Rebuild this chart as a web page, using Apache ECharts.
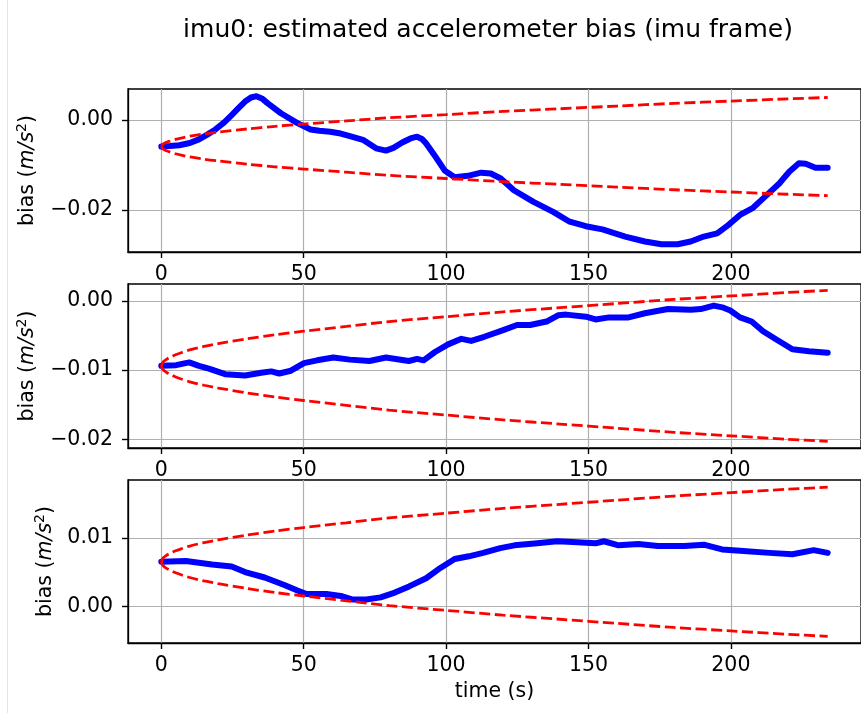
<!DOCTYPE html>
<html>
<head>
<meta charset="utf-8">
<script src="https://cdn.jsdelivr.net/npm/echarts@6/dist/echarts.min.js"></script>
<style>
  html, body { margin: 0; background: #fff; }
  #chart { width: 861px; height: 713px; }
</style>
</head>
<body>
<div id="chart"></div>
<script>
const titleText = 'imu0: estimated accelerometer bias (imu frame)';
const xName = 'time (s)';
const xTicks = [0, 50, 100, 150, 200];
const yTicks1 = [-0.02, 0.00];
const yTicks2 = [-0.02, -0.01, 0.00];
const yTicks3 = [0.00, 0.01];

// estimated bias, x axis
const t1 = [0, 3, 6.3, 10, 13.2, 16, 19, 22, 24.7, 27, 29.4, 31.5, 33.4, 35.3, 37.4, 42, 47.8, 52.4, 55.5, 59.3, 63, 66.2, 70.8, 75.4, 78.9, 81.5, 84.6, 87.5, 89.8, 91.5, 93, 96.1, 99.6, 103, 107.6, 112.3, 115.7, 119.2, 123.8, 130.7, 137.6, 143.4, 149.1, 154.9, 158.5, 162.9, 169.8, 175.6, 181.3, 185.9, 190.5, 195.2, 198.6, 203.2, 207.8, 212.4, 217, 220.5, 223.9, 226.3, 229.7, 234];
const b1 = [-0.0059, -0.0058, -0.0056, -0.0051, -0.0043, -0.0033, -0.0021, -0.0006, 0.0011, 0.0026, 0.0041, 0.0050, 0.0053, 0.0048, 0.0037, 0.0015, -0.0007, -0.0021, -0.0024, -0.0026, -0.0030, -0.0036, -0.0044, -0.0063, -0.0068, -0.0062, -0.0050, -0.0041, -0.0037, -0.0042, -0.0052, -0.0080, -0.0113, -0.0127, -0.0124, -0.0117, -0.0119, -0.0130, -0.0156, -0.0182, -0.0204, -0.0226, -0.0236, -0.0243, -0.0250, -0.0259, -0.0270, -0.0276, -0.0276, -0.0270, -0.0259, -0.0252, -0.0236, -0.0211, -0.0195, -0.0168, -0.0141, -0.0115, -0.0096, -0.0097, -0.0106, -0.0106];

// estimated bias, y axis
const t2 = [0, 5.2, 9.8, 13.2, 16.7, 22.4, 29.4, 35.1, 38.6, 41.4, 45.5, 50.1, 54.7, 60.4, 66.2, 73.1, 78.9, 86.9, 89.8, 92.1, 96.1, 100.7, 105.4, 108.8, 113.4, 120.3, 124.9, 129.5, 135.3, 139.3, 142.2, 149.1, 152.5, 157.2, 164.1, 169.8, 177.9, 185.9, 189.4, 194, 197.4, 199.8, 203.2, 207.3, 211.3, 216.4, 221.6, 227.4, 234];
const b2 = [-0.0094, -0.0093, -0.0089, -0.0094, -0.0098, -0.0106, -0.0108, -0.0104, -0.0102, -0.0105, -0.0101, -0.0090, -0.0086, -0.0082, -0.0085, -0.0087, -0.0082, -0.0087, -0.0084, -0.0086, -0.0074, -0.0063, -0.0055, -0.0058, -0.0052, -0.0042, -0.0035, -0.0035, -0.0030, -0.0021, -0.0020, -0.0023, -0.0027, -0.0024, -0.0024, -0.0018, -0.0012, -0.0013, -0.0012, -0.0007, -0.0010, -0.0014, -0.0024, -0.0030, -0.0044, -0.0057, -0.0070, -0.0073, -0.0075];

// estimated bias, z axis
const t3 = [0, 8.6, 17.8, 24.7, 29.4, 36.3, 43.2, 47.8, 51, 58, 63, 67, 72, 77, 82, 87, 93, 98, 103, 108, 113, 119, 124, 132, 139, 144.5, 152.5, 155.4, 160.6, 167.5, 174.4, 183.6, 190.5, 196.9, 203.2, 213.6, 221.6, 229.1, 234];
const b3 = [0.0065, 0.0066, 0.0061, 0.0058, 0.0050, 0.0042, 0.0031, 0.0023, 0.0018, 0.0018, 0.0015, 0.0010, 0.0010, 0.0013, 0.0020, 0.0029, 0.0041, 0.0056, 0.0069, 0.0073, 0.0078, 0.0085, 0.0089, 0.0092, 0.0095, 0.0094, 0.0092, 0.0095, 0.0089, 0.0091, 0.0088, 0.0088, 0.0090, 0.0083, 0.0081, 0.0078, 0.0076, 0.0082, 0.0078];

// bounds (red dashed)
const tb = [0, 0.5, 1, 2, 3, 5, 7, 10, 15, 20, 30, 40, 50, 65, 80, 100, 120, 140, 160, 180, 200, 220, 234];
const up1 = [-0.0059, -0.0054, -0.0052, -0.0049, -0.0047, -0.0043, -0.0040, -0.0036, -0.0031, -0.0027, -0.0020, -0.0014, -0.0009, -0.0002, 0.0005, 0.0012, 0.0019, 0.0025, 0.0031, 0.0037, 0.0042, 0.0047, 0.0050];
const lo1 = [-0.0059, -0.0064, -0.0066, -0.0069, -0.0071, -0.0075, -0.0078, -0.0082, -0.0087, -0.0091, -0.0098, -0.0104, -0.0109, -0.0116, -0.0123, -0.0130, -0.0137, -0.0143, -0.0149, -0.0155, -0.0160, -0.0165, -0.0168];
const up2 = [-0.0094, -0.0089, -0.0087, -0.0084, -0.0082, -0.0078, -0.0075, -0.0071, -0.0066, -0.0062, -0.0055, -0.0049, -0.0044, -0.0037, -0.0030, -0.0023, -0.0016, -0.0010, -0.0004, 0.0002, 0.0007, 0.0012, 0.0015];
const lo2 = [-0.0094, -0.0099, -0.0101, -0.0104, -0.0106, -0.0110, -0.0113, -0.0117, -0.0122, -0.0126, -0.0133, -0.0139, -0.0144, -0.0151, -0.0158, -0.0165, -0.0172, -0.0178, -0.0184, -0.0190, -0.0195, -0.0200, -0.0203];
const up3 = [0.0065, 0.0070, 0.0072, 0.0075, 0.0077, 0.0081, 0.0084, 0.0088, 0.0093, 0.0097, 0.0104, 0.0110, 0.0115, 0.0122, 0.0129, 0.0136, 0.0143, 0.0149, 0.0155, 0.0161, 0.0166, 0.0171, 0.0174];
const lo3 = [0.0065, 0.0060, 0.0058, 0.0055, 0.0053, 0.0049, 0.0046, 0.0042, 0.0037, 0.0033, 0.0026, 0.0020, 0.0015, 0.0008, 0.0001, -0.0006, -0.0013, -0.0019, -0.0025, -0.0031, -0.0036, -0.0041, -0.0044];

const zip = (xs, ys) => xs.map((x, i) => [x, ys[i]]);
const fmtY = v => (v < 0 ? '\u2212' : '') + Math.abs(v).toFixed(2);
const FONT = 'DejaVu Sans';
const FS = 20.5;

const panels = [
  { top: 89,  height: 163, min: -0.02933, max: 0.00689, ticks: yTicks1, gap: 88, t: t1, b: b1, up: up1, lo: lo1 },
  { top: 284, height: 164, min: -0.02126, max: 0.00242, ticks: yTicks2, gap: 88, t: t2, b: b2, up: up2, lo: lo2 },
  { top: 480, height: 163, min: -0.00537, max: 0.01845, ticks: yTicks3, gap: 70, t: t3, b: b3, up: up3, lo: lo3 }
];

const tickStyle = { color: '#000', width: 1.4 };
const grid = [], xAxis = [], yAxis = [], series = [];
panels.forEach((p, i) => {
  grid.push({ left: 128, right: -12, top: p.top, height: p.height, show: true,
    borderColor: '#000', borderWidth: 1.3, containLabel: false });
  xAxis.push({
    type: 'value', gridIndex: i, min: -11.7, max: 245.7,
    name: i === 2 ? xName : '', nameLocation: 'middle', nameGap: 38,
    nameTextStyle: { fontFamily: FONT, fontSize: FS, color: '#000' },
    axisLine: { show: true, onZero: false, lineStyle: { color: '#000', width: 1.3 } },
    axisTick: { show: true, length: 6, customValues: xTicks, lineStyle: tickStyle },
    axisLabel: { customValues: xTicks, margin: 12, fontFamily: FONT, fontSize: FS, color: '#000' },
    splitLine: { show: true, lineStyle: { color: '#b0b0b0', width: 1.2 } }
  });
  yAxis.push({
    type: 'value', gridIndex: i, min: p.min, max: p.max,
    name: '{n|bias (}{i|m/s}{s|2}{n|)}', nameLocation: 'middle', nameRotate: 90, nameGap: p.gap,
    nameTextStyle: { rich: {
      n: { fontFamily: FONT, fontSize: FS, color: '#000', lineHeight: 25 },
      i: { fontFamily: FONT, fontSize: FS, fontStyle: 'italic', color: '#000', lineHeight: 25 },
      s: { fontFamily: FONT, fontSize: 14, color: '#000', verticalAlign: 'top', lineHeight: 25 }
    } },
    axisLine: { show: true, onZero: false, lineStyle: { color: '#000', width: 1.3 } },
    axisTick: { show: true, length: 6, customValues: p.ticks, lineStyle: tickStyle },
    axisLabel: { customValues: p.ticks, margin: 15, fontFamily: FONT, fontSize: FS, color: '#000', formatter: fmtY },
    splitLine: { show: true, lineStyle: { color: '#b0b0b0', width: 1.2 } }
  });
  series.push({
    type: 'line', xAxisIndex: i, yAxisIndex: i, data: zip(p.t, p.b), showSymbol: false,
    lineStyle: { color: '#0000ff', width: 6, cap: 'round', join: 'round' }, silent: true, z: 2
  });
  [p.up, p.lo].forEach(bd => series.push({
    type: 'line', xAxisIndex: i, yAxisIndex: i, data: zip(tb, bd), showSymbol: false, smooth: 0.3,
    lineStyle: { color: '#ff0000', width: 2.8, type: [11, 4.5] }, silent: true, z: 3
  }));
});

const chart = echarts.init(document.getElementById('chart'));
chart.setOption({
  backgroundColor: '#fff',
  animation: false,
  grid, xAxis, yAxis, series,
  graphic: [
    { type: 'text', x: 488, y: 30, style: { text: titleText, fontFamily: FONT, fontSize: 25,
      fill: '#000', textAlign: 'center', textVerticalAlign: 'middle' } },
    { type: 'line', shape: { x1: 7.5, y1: 0, x2: 7.5, y2: 713 }, style: { stroke: '#e3e3e3', lineWidth: 1 } }
  ]
});
</script>
</body>
</html>
